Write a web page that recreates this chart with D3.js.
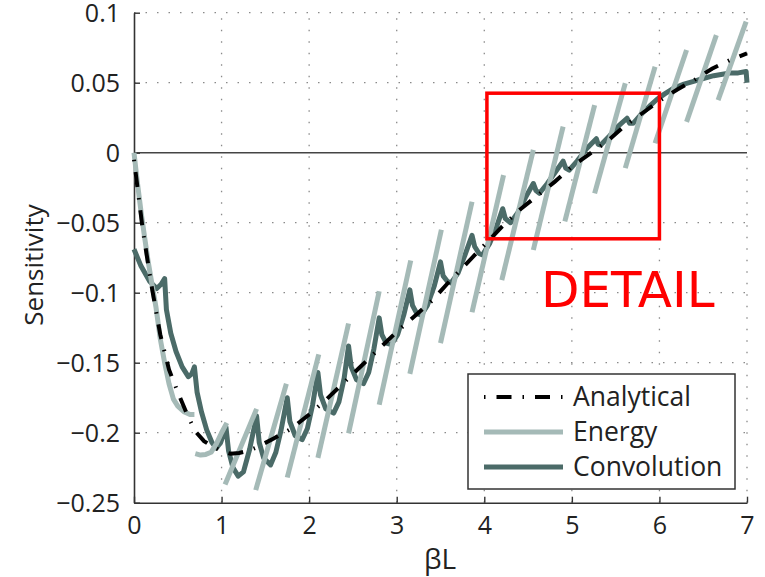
<!DOCTYPE html>
<html><head><meta charset="utf-8">
<script src="https://cdn.jsdelivr.net/npm/d3@7/dist/d3.min.js"></script>
<style>
html,body{margin:0;padding:0;background:#fff;}
svg{display:block;}
</style></head>
<body>
<svg id="chart" width="765" height="577"></svg>
<script>
// ---------- data ----------
const xTicks = [0,1,2,3,4,5,6,7];
const yTicks = [-0.25,-0.2,-0.15,-0.1,-0.05,0,0.05,0.1];
const yTickLabels = ["\u22120.25","\u22120.2","\u22120.15","\u22120.1","\u22120.05","0","0.05","0.1"];
const seriesNames = ["Analytical","Energy","Convolution"];

const analyticalX = [0,0.05,0.1,0.2,0.3,0.4,0.5,0.6,0.7,0.8,0.9,1.0,1.1,1.2,1.3,1.4,1.6,1.8,2.0,2.2,2.4,2.6,2.8,3.0,3.2,3.4,3.6,3.8,4.0,4.2,4.4,4.6,4.8,5.0,5.2,5.4,5.6,5.8,6.0,6.2,6.4,6.6,6.8,7.0];
const analyticalY = [-0.005,-0.03,-0.055,-0.095,-0.13,-0.155,-0.171,-0.186,-0.199,-0.206,-0.210,-0.213,-0.215,-0.2145,-0.213,-0.2105,-0.204,-0.197,-0.187,-0.176,-0.164,-0.152,-0.140,-0.128,-0.117,-0.106,-0.092,-0.079,-0.066,-0.053,-0.041,-0.031,-0.021,-0.010,-0.001,0.008,0.019,0.028,0.037,0.045,0.052,0.060,0.066,0.071];

const energySegments = [
  [[0,0],[0.04,-0.022],[0.08,-0.042],[0.12,-0.060],[0.16,-0.077],[0.20,-0.092],[0.25,-0.110],[0.30,-0.133],[0.35,-0.150],[0.40,-0.165],[0.45,-0.176],[0.50,-0.181],[0.57,-0.185],[0.64,-0.187],[0.69,-0.187]],
  [[0.70,-0.215],[0.76,-0.216],[0.82,-0.2155],[0.88,-0.214],[0.94,-0.208],[1.00,-0.200],[1.06,-0.193]],
  [[1.04,-0.237],[1.40,-0.183]],
  [[1.39,-0.241],[1.74,-0.165]],
  [[1.75,-0.232],[2.11,-0.144]],
  [[2.10,-0.218],[2.45,-0.122]],
  [[2.45,-0.2005],[2.80,-0.099]],
  [[2.80,-0.180],[3.16,-0.077]],
  [[3.15,-0.158],[3.51,-0.055]],
  [[3.50,-0.136],[3.86,-0.035]],
  [[3.86,-0.114],[4.22,-0.016]],
  [[4.20,-0.091],[4.56,0.002]],
  [[4.56,-0.0695],[4.90,0.0186]],
  [[4.92,-0.049],[5.26,0.034]],
  [[5.26,-0.029],[5.61,0.0496]],
  [[5.61,-0.011],[5.95,0.0614]],
  [[5.95,0.0067],[6.31,0.0734]],
  [[6.31,0.022],[6.65,0.084]],
  [[6.67,0.0376],[6.99,0.0936]]
];

const convolutionX = [0,0.08,0.18,0.26,0.31,0.35,0.37,0.42,0.48,0.55,0.62,0.66,0.69,0.72,0.77,0.83,0.89,0.94,0.99,1.05,1.08,1.13,1.19,1.25,1.32,1.40,1.43,1.48,1.56,1.62,1.68,1.75,1.78,1.84,1.92,1.98,2.04,2.10,2.13,2.19,2.28,2.34,2.40,2.45,2.48,2.54,2.62,2.68,2.74,2.80,2.83,2.88,2.94,3.01,3.08,3.15,3.18,3.23,3.28,3.35,3.43,3.50,3.53,3.58,3.62,3.70,3.78,3.86,3.89,3.94,3.98,4.06,4.14,4.21,4.24,4.30,4.38,4.47,4.56,4.59,4.63,4.72,4.81,4.90,4.93,4.97,5.06,5.17,5.28,5.30,5.33,5.43,5.53,5.63,5.66,5.70,5.80,5.90,5.97,6.06,6.16,6.28,6.39,6.50,6.62,6.72,6.81,6.90,6.99,7.00];
const convolutionY = [-0.069,-0.081,-0.092,-0.097,-0.094,-0.090,-0.112,-0.129,-0.142,-0.153,-0.160,-0.158,-0.153,-0.171,-0.185,-0.198,-0.207,-0.211,-0.207,-0.196,-0.213,-0.225,-0.231,-0.228,-0.212,-0.188,-0.207,-0.218,-0.223,-0.214,-0.198,-0.175,-0.192,-0.202,-0.205,-0.197,-0.180,-0.157,-0.173,-0.183,-0.186,-0.178,-0.161,-0.138,-0.153,-0.162,-0.165,-0.157,-0.140,-0.118,-0.130,-0.136,-0.137,-0.130,-0.116,-0.098,-0.109,-0.115,-0.116,-0.109,-0.095,-0.078,-0.088,-0.092,-0.093,-0.086,-0.073,-0.059,-0.067,-0.072,-0.073,-0.065,-0.053,-0.040,-0.047,-0.050,-0.043,-0.032,-0.022,-0.027,-0.029,-0.022,-0.014,-0.006,-0.011,-0.0125,-0.006,0.003,0.010,0.006,0.0055,0.012,0.019,0.0246,0.021,0.021,0.028,0.034,0.038,0.042,0.046,0.049,0.051,0.053,0.055,0.056,0.057,0.057,0.058,0.050];

const detailBox = {x0:4.03, x1:6.0, y0:-0.0615, y1:0.0425};
const detailLabel = "DETAIL";

// ---------- layout ----------
const FONT = "'Open Sans','Noto Sans',sans-serif";
const colors = {analytical:"#000000", energy:"#a5bab7", convolution:"#4b6b68", axis:"#333", grid:"#8a8a8a", red:"#ff0000", text:"#222"};
const svg = d3.select("#chart");
const x = d3.scaleLinear().domain([0,7]).range([134,747]);
const y = d3.scaleLinear().domain([-0.25,0.1]).range([502.7,12.7]);

// grid
const g = svg.append("g");
g.selectAll("line.vg").data(xTicks.filter(d=>d>0)).join("line")
  .attr("x1",d=>x(d)).attr("x2",d=>x(d)).attr("y1",y(-0.25)).attr("y2",y(0.1))
  .attr("stroke",colors.grid).attr("stroke-width",1.3).attr("stroke-dasharray","1.5,10");
g.selectAll("line.hg").data(yTicks.filter(d=>d!==-0.25 && d!==0)).join("line")
  .attr("x1",x(0)).attr("x2",x(7)).attr("y1",d=>y(d)).attr("y2",d=>y(d))
  .attr("stroke",colors.grid).attr("stroke-width",1.3).attr("stroke-dasharray","1.5,10");

// zero line
svg.append("line").attr("x1",x(0)).attr("x2",x(7)).attr("y1",y(0)).attr("y2",y(0))
  .attr("stroke","#444").attr("stroke-width",1.6);

// axes
const xAxis = d3.axisBottom(x).tickValues(xTicks).tickSizeInner(-6).tickSizeOuter(0).tickPadding(14).tickFormat(d3.format("d"));
const yAxis = d3.axisLeft(y).tickValues(yTicks).tickSizeInner(-6).tickSizeOuter(0).tickPadding(14).tickFormat((d,i)=>yTickLabels[i]);
const gx = svg.append("g").attr("transform",`translate(0,${y(-0.25)})`).call(xAxis);
const gy = svg.append("g").attr("transform",`translate(${x(0)},0)`).call(yAxis);
[gx,gy].forEach(a=>{
  a.attr("font-family",null).attr("font-size",null);
  a.select(".domain").attr("stroke",colors.axis).attr("stroke-width",1.6);
  a.selectAll(".tick line").attr("stroke",colors.axis).attr("stroke-width",1.4);
  a.selectAll(".tick text").style("font-size","25px").style("fill",colors.text).style("font-family",FONT);
});
gy.selectAll(".tick text").attr("dy","0.34em");
gx.selectAll(".tick text").attr("dy","0.68em");

// axis labels
svg.append("text").attr("transform",`translate(43,265) rotate(-90)`).attr("text-anchor","middle")
  .style("font-family",FONT).style("font-size","26px").style("fill",colors.text).text("Sensitivity");
svg.append("text").attr("x",440).attr("y",569).attr("text-anchor","middle")
  .style("font-family",FONT).style("font-size","28px").style("fill",colors.text).text("\u03b2L");

// lines
const lineGen = d3.line().x(d=>x(d[0])).y(d=>y(d[1]));
const convData = convolutionX.map((v,i)=>[v,convolutionY[i]]);
const anaData = analyticalX.map((v,i)=>[v,analyticalY[i]]);

svg.append("path").datum(convData).attr("d",lineGen).attr("fill","none")
  .attr("stroke",colors.convolution).attr("stroke-width",5).attr("stroke-linejoin","round");
svg.selectAll("path.energy").data(energySegments).join("path").attr("class","energy")
  .attr("d",lineGen).attr("fill","none").attr("stroke",colors.energy).attr("stroke-width",5)
  .attr("stroke-linecap","butt").attr("stroke-linejoin","round");
svg.append("path").datum(anaData).attr("d",lineGen).attr("fill","none")
  .attr("stroke",colors.analytical).attr("stroke-width",4).attr("stroke-dasharray","1.5,11,15,11");

// legend
const lg = svg.append("g");
lg.append("rect").attr("x",468).attr("y",374).attr("width",267).attr("height",115)
  .attr("fill","#fff").attr("stroke",colors.axis).attr("stroke-width",1.5);
const legendStyles = [
  {c:colors.analytical,w:4,dash:"1.5,11,15,11"},
  {c:colors.energy,w:5,dash:null},
  {c:colors.convolution,w:5,dash:null}
];
seriesNames.forEach((n,i)=>{
  const yy = 397 + i*35;
  lg.append("line").attr("x1",484).attr("x2",563).attr("y1",yy).attr("y2",yy)
    .attr("stroke",legendStyles[i].c).attr("stroke-width",legendStyles[i].w)
    .attr("stroke-dasharray",legendStyles[i].dash);
  lg.append("text").attr("x",573).attr("y",yy).attr("dy","0.35em")
    .style("font-family",FONT).style("font-size","26.5px").style("fill",colors.text).text(n);
});

// detail box
svg.append("rect").attr("x",x(detailBox.x0)).attr("y",y(detailBox.y1))
  .attr("width",x(detailBox.x1)-x(detailBox.x0)).attr("height",y(detailBox.y0)-y(detailBox.y1))
  .attr("fill","none").attr("stroke",colors.red).attr("stroke-width",3.5);
svg.append("text").attr("x",541).attr("y",306.5)
  .style("font-family","'DejaVu Sans',sans-serif").style("font-size","50px").style("fill",colors.red).text(detailLabel);
</script>
</body></html>
